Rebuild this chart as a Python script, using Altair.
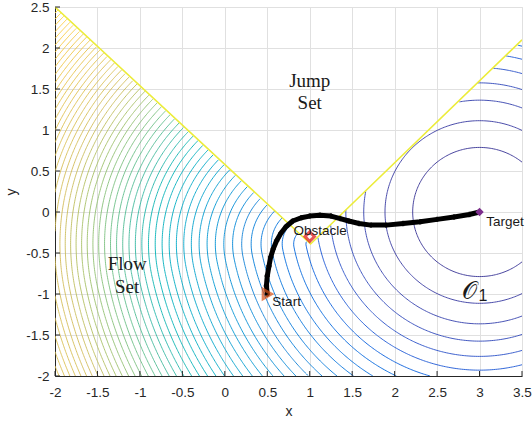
import numpy as np
import pandas as pd
import altair as alt

# ---------------- data ----------------
X_DOMAIN = [-2.0, 3.5]
Y_DOMAIN = [-2.0, 2.5]
X_TICKS = [-2, -1.5, -1, -0.5, 0, 0.5, 1, 1.5, 2, 2.5, 3, 3.5]
Y_TICKS = [-2, -1.5, -1, -0.5, 0, 0.5, 1, 1.5, 2, 2.5]

TARGET = [3.0, 0.0]
OBSTACLE = [1.0, -0.3]
START = [0.5, -1.0]
# jump-set boundary (two straight edges meeting under the obstacle)
EDGE_X = [-2.0, 1.01, 3.5]
EDGE_Y = [2.5, -0.39, 2.1]

# contour levels of the flow-set function and the colour range
LEVEL_STEP = 0.62
N_LEVELS = 64
PARULA = ["#352A87", "#0F5CDD", "#1481D6", "#06A4CA", "#2EB7A4",
          "#87BF77", "#D1BB59", "#FEC832", "#F9FB0E"]
COLOR_STOPS = [0, 4.1, 8.2, 12.3, 16.6, 20.5, 24.5, 36.0, 46.0]

# closed-loop trajectory (Start -> Target)
TRAJ_X = [0.50, 0.49, 0.50, 0.52, 0.54, 0.57, 0.61, 0.66, 0.72, 0.80, 0.90, 1.00,
          1.12, 1.25, 1.36, 1.46, 1.58, 1.72, 1.90, 2.10, 2.30, 2.50, 2.70, 2.88, 3.00]
TRAJ_Y = [-1.00, -0.90, -0.78, -0.66, -0.55, -0.45, -0.35, -0.26, -0.18, -0.11, -0.07, -0.05,
          -0.04, -0.05, -0.08, -0.11, -0.14, -0.16, -0.16, -0.14, -0.12, -0.09, -0.06, -0.03, 0.00]

# ---------------- flow-set function on a grid ----------------
NX, NY = 441, 361
gx = np.linspace(X_DOMAIN[0], X_DOMAIN[1], NX)
gy = np.linspace(Y_DOMAIN[0], Y_DOMAIN[1], NY)
XX, YY = np.meshgrid(gx, gy)

apex = np.array([EDGE_X[1], EDGE_Y[1]])
T = np.array(TARGET)


def side(p0x, p0y, p1x, p1y):
    return (p1x - p0x) * (YY - p0y) - (p1y - p0y) * (XX - p0x)


jump = (side(EDGE_X[0], EDGE_Y[0], EDGE_X[1], EDGE_Y[1]) > 0) & \
       (side(EDGE_X[1], EDGE_Y[1], EDGE_X[2], EDGE_Y[2]) > 0)

wt = np.hypot(*(apex - T))
u = (apex - T) / wt
proj = (XX - T[0]) * u[0] + (YY - T[1]) * u[1]
cross = u[0] * (YY - T[1]) - u[1] * (XX - T[0])
shadow = (cross < 0) & (proj > wt)
d_direct = np.hypot(XX - T[0], YY - T[1])
d_around = np.hypot(XX - apex[0], YY - apex[1]) + wt
V = np.where(shadow, d_around, d_direct) ** 2
V[jump] = np.nan

OFF = NX * NY


def contour(level):
    a = V[:-1, :-1]; b = V[:-1, 1:]; c = V[1:, 1:]; d = V[1:, :-1]
    valid = np.isfinite(a) & np.isfinite(b) & np.isfinite(c) & np.isfinite(d)
    A = a > level; B = b > level; C = c > level; D = d > level
    eb = (A != B) & valid
    er = (B != C) & valid
    et = (D != C) & valid
    el = (A != D) & valid
    ii, jj = np.meshgrid(np.arange(NY - 1), np.arange(NX - 1), indexing="ij")
    idb = ii * NX + jj
    idt = (ii + 1) * NX + jj
    idl = OFF + ii * NX + jj
    idr = OFF + ii * NX + jj + 1
    cnt = eb.astype(int) + er + et + el
    edges = [(eb, idb), (er, idr), (et, idt), (el, idl)]
    pairs = []
    for p in range(4):
        for q in range(p + 1, 4):
            m = edges[p][0] & edges[q][0] & (cnt == 2)
            pairs += list(zip(edges[p][1][m].tolist(), edges[q][1][m].tolist()))
    sad = cnt == 4
    center = (a + b + c + d) / 4 > level
    s1 = sad & (center == A)
    s2 = sad & (center != A)
    pairs += list(zip(idb[s1].tolist(), idr[s1].tolist()))
    pairs += list(zip(idt[s1].tolist(), idl[s1].tolist()))
    pairs += list(zip(idb[s2].tolist(), idl[s2].tolist()))
    pairs += list(zip(idt[s2].tolist(), idr[s2].tolist()))

    adj = {}
    for e1, e2 in pairs:
        adj.setdefault(e1, []).append(e2)
        adj.setdefault(e2, []).append(e1)

    def exy(e):
        if e < OFF:
            i, j = divmod(e, NX)
            v0, v1 = V[i, j], V[i, j + 1]
            t = (level - v0) / (v1 - v0)
            return gx[j] + t * (gx[j + 1] - gx[j]), gy[i]
        i, j = divmod(e - OFF, NX)
        v0, v1 = V[i, j], V[i + 1, j]
        t = (level - v0) / (v1 - v0)
        return gx[j], gy[i] + t * (gy[i + 1] - gy[i])

    visited = set()
    lines = []
    starts = [e for e, n in adj.items() if len(n) == 1] + list(adj.keys())
    for s in starts:
        if s in visited:
            continue
        line = [s]
        visited.add(s)
        cur = s
        while True:
            nxt = [n for n in adj[cur] if n not in visited]
            if not nxt:
                if s in adj[cur] and len(line) > 2:
                    line.append(s)
                break
            cur = nxt[0]
            visited.add(cur)
            line.append(cur)
        if len(line) > 1:
            keep = line[::2]
            if keep[-1] != line[-1]:
                keep.append(line[-1])
            lines.append([exy(e) for e in keep])
    return lines


rows = []
lid = 0
for k in range(1, N_LEVELS + 1):
    lev = LEVEL_STEP * k
    for ln in contour(lev):
        for o, (x, y) in enumerate(ln):
            rows.append((float(x), float(y), lev, lid, o))
        lid += 1
cdf = pd.DataFrame(rows, columns=["x", "y", "lev", "line", "ord"])

# ---------------- chart ----------------
W, H = 467, 369
xs = alt.Scale(domain=X_DOMAIN, nice=False, zero=False)
ys = alt.Scale(domain=Y_DOMAIN, nice=False, zero=False)

AX = dict(grid=True, gridColor="#e0e0e0", gridWidth=1, domainColor="#262626",
          domainWidth=1, tickSize=0, labelFont="Liberation Sans", labelFontSize=13.5,
          labelColor="#262626", titleFont="Liberation Sans", titleFontSize=14,
          titleColor="#262626", titleFontWeight="normal", labelExpr="datum.value + ''")

base_x = alt.X("x:Q", scale=xs, axis=alt.Axis(values=X_TICKS, labelPadding=9, titlePadding=6,
                                                labelFlush=False, **AX), title="x")
base_y = alt.Y("y:Q", scale=ys, axis=alt.Axis(values=Y_TICKS, labelPadding=6, titlePadding=7,
                                                labelFlush=False, **AX), title="y")

contours = alt.Chart(cdf).mark_line(strokeWidth=0.9, clip=True).encode(
    x=base_x, y=base_y,
    color=alt.Color("lev:Q", scale=alt.Scale(domain=COLOR_STOPS, range=PARULA, clamp=True),
                    legend=None),
    detail="line:N", order="ord:Q")

edge_df = pd.DataFrame({"x": EDGE_X, "y": EDGE_Y, "o": [0, 1, 2]})
edge = alt.Chart(edge_df).mark_line(color="#ecec3a", strokeWidth=1.6, clip=True).encode(
    x=alt.X("x:Q", scale=xs), y=alt.Y("y:Q", scale=ys), order="o:Q")

xt_df = pd.DataFrame({"x": X_TICKS})
yt_df = pd.DataFrame({"y": Y_TICKS})
xticks = alt.Chart(xt_df).mark_rule(color="#262626", strokeWidth=1).encode(
    x=alt.X("x:Q", scale=xs), y=alt.value(H), y2=alt.value(H - 5))
yticks = alt.Chart(yt_df).mark_rule(color="#262626", strokeWidth=1).encode(
    y=alt.Y("y:Q", scale=ys), x=alt.value(0), x2=alt.value(5))

traj_df = pd.DataFrame({"x": TRAJ_X, "y": TRAJ_Y, "o": list(range(len(TRAJ_X)))})
traj = alt.Chart(traj_df).mark_line(color="black", strokeWidth=5, strokeCap="round",
                                    strokeJoin="round").encode(
    x=alt.X("x:Q", scale=xs), y=alt.Y("y:Q", scale=ys), order="o:Q")
traj_pts = alt.Chart(traj_df).mark_point(shape="cross", color="black", size=30, filled=True).encode(
    x=alt.X("x:Q", scale=xs), y=alt.Y("y:Q", scale=ys))

start_m = alt.Chart(pd.DataFrame({"x": [START[0]], "y": [START[1]]})).mark_point(
    shape="triangle-right", size=90, filled=False, stroke="#D95319", strokeWidth=3).encode(
    x=alt.X("x:Q", scale=xs), y=alt.Y("y:Q", scale=ys))
obst_m = alt.Chart(pd.DataFrame({"x": [OBSTACLE[0]], "y": [OBSTACLE[1]]})).mark_point(
    shape="diamond", size=90, filled=True, fill="white", stroke="#E01010", strokeWidth=3).encode(
    x=alt.X("x:Q", scale=xs), y=alt.Y("y:Q", scale=ys))
targ_m = alt.Chart(pd.DataFrame({"x": [TARGET[0]], "y": [TARGET[1]]})).mark_point(
    shape="diamond", size=70, filled=True, color="#7E2F8E", opacity=1).encode(
    x=alt.X("x:Q", scale=xs), y=alt.Y("y:Q", scale=ys))

LABELS = ["Start", "Obstacle", "Target"]
LABEL_X = [0.56, 0.81, 3.08]
LABEL_Y = [-1.10, -0.23, -0.12]
lab = alt.Chart(pd.DataFrame({"x": LABEL_X, "y": LABEL_Y, "t": LABELS})).mark_text(
    align="left", baseline="middle", font="Liberation Sans", fontSize=13.5, color="#1a1a1a").encode(
    x=alt.X("x:Q", scale=xs), y=alt.Y("y:Q", scale=ys), text="t:N")

SET_TEXT = ["Jump", "Set", "Flow", "Set"]
SET_X = [1.0, 1.0, -1.15, -1.15]
SET_Y = [1.60, 1.33, -0.63, -0.91]
sets = alt.Chart(pd.DataFrame({"x": SET_X, "y": SET_Y, "t": SET_TEXT})).mark_text(
    align="center", baseline="middle", font="Liberation Serif", fontSize=19, color="#1a1a1a").encode(
    x=alt.X("x:Q", scale=xs), y=alt.Y("y:Q", scale=ys), text="t:N")

o_big = alt.Chart(pd.DataFrame({"x": [2.88], "y": [-0.97], "t": ["𝒪"]})).mark_text(
    align="center", baseline="middle", font="DejaVu Sans", fontSize=24, color="#1a1a1a").encode(
    x=alt.X("x:Q", scale=xs), y=alt.Y("y:Q", scale=ys), text="t:N")
o_sub = alt.Chart(pd.DataFrame({"x": [3.04], "y": [-1.03], "t": ["1"]})).mark_text(
    align="center", baseline="middle", font="Liberation Sans", fontSize=16, color="#1a1a1a").encode(
    x=alt.X("x:Q", scale=xs), y=alt.Y("y:Q", scale=ys), text="t:N")

chart = alt.layer(contours, edge, traj, traj_pts, start_m, obst_m, targ_m,
                  lab, sets, o_big, o_sub, xticks, yticks).properties(
    width=W, height=H,
    autosize=alt.AutoSizeParams(type="none"),
    padding={"left": 55, "top": 7, "right": 10, "bottom": 50},
).configure_view(stroke=None).configure(background="white")

chart.save("out.html", embed_options={"renderer": "svg", "actions": False})
